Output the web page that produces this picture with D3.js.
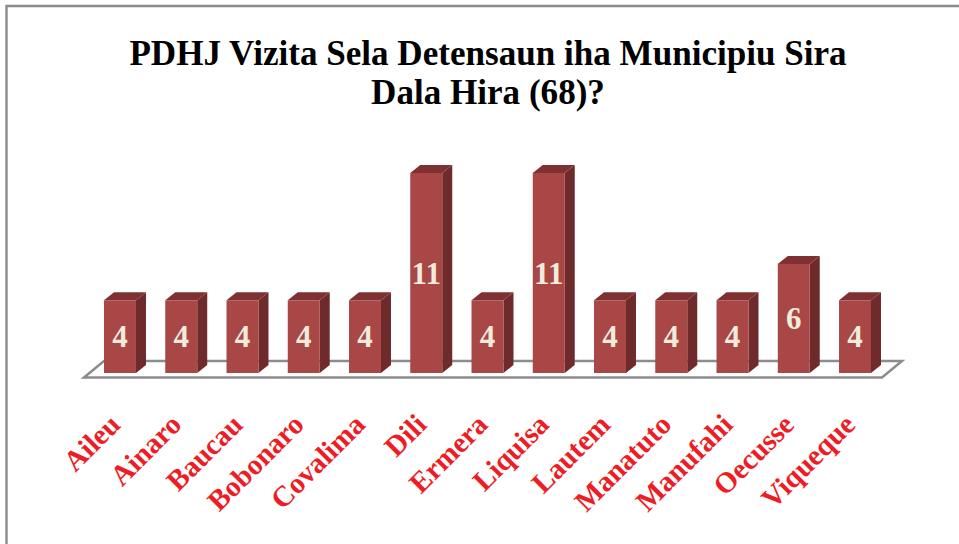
<!DOCTYPE html>
<meta charset="utf-8">
<title>PDHJ Vizita Sela Detensaun</title>
<body>
<script src="https://cdn.jsdelivr.net/npm/d3@7"></script>
<style>
html, body {
    background: #fff;
    margin: 0;
    overflow: hidden;
}

svg {
    display: block;
    font-family: "Liberation Serif", serif;
    font-weight: bold;
}
</style>

<script>
var municipios = ["Aileu", "Ainaro", "Baucau", "Bobonaro", "Covalima", "Dili", "Ermera",
                  "Liquisa", "Lautem", "Manatuto", "Manufahi", "Oecusse", "Viqueque"];
var vizitas = [4, 4, 4, 4, 4, 11, 4, 11, 4, 4, 4, 6, 4];
var titleLines = ["PDHJ Vizita Sela Detensaun iha Municipiu Sira", "Dala Hira (68)?"];

var width = 959,
    height = 544,
    baseY = 373,
    dx = 10,
    dy = 8;

var svg = d3.select("body").append("svg")
    .attr("width", width)
    .attr("height", height);

// chart frame, only top and left edges are in the picture
svg.append("path")
    .attr("d", "M6.5,544V6H959")
    .attr("fill", "none")
    .attr("stroke", "#8c8c8c")
    .attr("stroke-width", 2.4);

svg.selectAll("text.title")
    .data(titleLines)
  .enter().append("text")
    .attr("class", "title")
    .attr("x", 488)
    .attr("y", function(d, i) { return 65 + i * 39; })
    .attr("text-anchor", "middle")
    .attr("font-size", 35.1)
    .attr("fill", "#000")
    .text(function(d) { return d; });

var x = d3.scaleBand()
    .domain(municipios)
    .range([104, 871])
    .paddingInner(0.478)
    .paddingOuter(0);

var y = d3.scaleLinear()
    .domain([0, 11])
    .range([baseY, 173]);

// floor
svg.append("path")
    .attr("d", "M84,377.5L104,361H902L882,377.5Z")
    .attr("fill", "#fff")
    .attr("stroke", "#8c8c8c")
    .attr("stroke-width", 2.5);

var bars = svg.selectAll("g.bar")
    .data(vizitas)
  .enter().append("g")
    .attr("class", "bar")
    .attr("transform", function(d, i) { return "translate(" + x(municipios[i]) + ",0)"; });

var w = x.bandwidth();

bars.append("path")
    .attr("fill", "#6f2b2b")
    .attr("d", function(d) {
        return "M" + w + "," + y(d) + "l" + dx + "," + (-dy) + "V" + (baseY - dy) + "L" + w + "," + baseY + "Z";
    });

bars.append("path")
    .attr("fill", "#7f3131")
    .attr("d", function(d) {
        return "M0," + y(d) + "l" + dx + "," + (-dy) + "h" + w + "l" + (-dx) + "," + dy + "Z";
    });

bars.append("rect")
    .attr("y", function(d) { return y(d); })
    .attr("width", w)
    .attr("height", function(d) { return baseY - y(d); })
    .attr("fill", "#a94646");

bars.append("text")
    .attr("x", w / 2)
    .attr("y", function(d) { return (y(d) + baseY) / 2 + 10.5; })
    .attr("text-anchor", "middle")
    .attr("font-size", 31)
    .attr("fill", "#f0ebdc")
    .text(function(d) { return d; });

var axis = d3.axisBottom(x)
    .tickSize(0)
    .tickPadding(0);

var gx = svg.append("g")
    .attr("transform", "translate(-12.5,412)")
    .call(axis);

gx.select(".domain").remove();

gx.selectAll("text")
    .attr("y", 0)
    .attr("dy", "0.7em")
    .attr("text-anchor", "end")
    .attr("transform", "rotate(-45)")
    .attr("font-family", "Liberation Serif")
    .attr("font-weight", "bold")
    .attr("font-size", 29)
    .attr("fill", "#ee1c25");
</script>
